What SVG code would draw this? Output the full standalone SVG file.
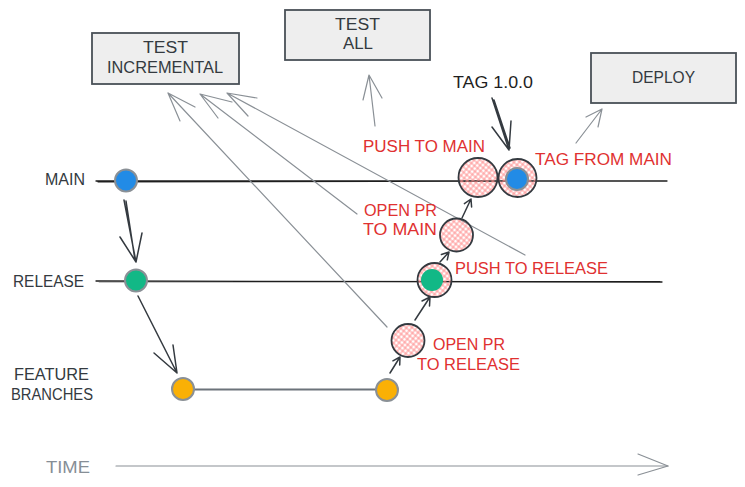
<svg xmlns="http://www.w3.org/2000/svg" width="745" height="487" viewBox="0 0 745 487">
<defs>
<pattern id="hatch" patternUnits="userSpaceOnUse" width="4" height="4" patternTransform="rotate(40)">
<path d="M0,2 H4 M2,0 V4" stroke="#ff8787" stroke-width="0.9"/>
</pattern>
<style>
.lbl{font-family:"Liberation Sans","DejaVu Sans",sans-serif;font-size:16px;}
.dark{fill:#343a40;}
.red{fill:#e03131;}
.blk{fill:#1e1e1e;}
.gryt{fill:#868e96;}
.box{fill:#eeeeee;stroke:#495057;stroke-width:1.8;}
.track{stroke:#1e1e1e;stroke-width:1.3;fill:none;stroke-linecap:round;}
.gline{stroke:#8a9096;stroke-width:1.2;fill:none;stroke-linecap:round;stroke-linejoin:round;}
.darr{stroke:#343a40;stroke-width:1.5;fill:none;stroke-linecap:round;stroke-linejoin:round;}
.hc{fill:url(#hatch);stroke:#343a40;stroke-width:1.8;}
.dot{stroke:#8a9096;stroke-width:2;}
</style>
</defs>
<rect width="745" height="487" fill="#ffffff"/>

<g id="tracks">
<path class="track" d="M96,181 L667,181 M98,181.8 L665,180.8"/>
<path class="track" d="M96,281 L662,282 M99,281.6 L660,281.6"/>
<path d="M183,389.5 L387,389.5" stroke="#6c737a" stroke-width="2" fill="none"/>
<path class="gline" d="M116,466 L668,466" stroke-width="2"/>
</g>

<g id="connectors">
<path class="gline" d="M387,327 L168,93 M195,107 L168,93 L180,121"/>
<path class="gline" d="M357,214 L200,94 M232,102 L200,94 L218,118"/>
<path class="gline" d="M525,255 L227,93 M257,98 L227,93 L248,116"/>
<path class="gline" d="M375,126 L369,75 M363,100 L369,75 L382,98"/>
<path class="gline" d="M576,143 L602,109 M586,117 L602,109 L598,127"/>
<path class="gline" d="M638,454 L668,466 L638,475"/>
<path class="darr" d="M492,98 L509,150 M494,100 L510,148 M492,127 L509,150 L511,121"/>
<path class="darr" d="M124,200 L136,262 M126,201 L135,260 M120,237 L136,262 L142,233"/>
<path class="darr" d="M138,296 L177,373 M154,353 L177,373 L173,345"/>
<path class="darr" d="M390,373 L400,357 M392.9,360.8 L400,357 L399.7,365"/>
<path class="darr" d="M415,320 L430,297 M422,301 L430,297 L429.5,306"/>
<path class="darr" d="M440,262 L449,252 M441.4,254.5 L449,252 L447.3,259.8"/>
<path class="darr" d="M462,218 L471,199 M464.4,203.6 L471,199 L471.6,207"/>
</g>

<g id="test-incremental">
<rect class="box" x="92" y="33" width="147" height="51"/>
<text class="lbl dark" x="143" y="53" textLength="45" lengthAdjust="spacingAndGlyphs">TEST</text>
<text class="lbl dark" x="107" y="73" textLength="116" lengthAdjust="spacingAndGlyphs">INCREMENTAL</text>
</g>
<g id="test-all">
<rect class="box" x="285" y="10" width="145" height="50"/>
<text class="lbl dark" x="335" y="30" textLength="45" lengthAdjust="spacingAndGlyphs">TEST</text>
<text class="lbl dark" x="343" y="49" textLength="30" lengthAdjust="spacingAndGlyphs">ALL</text>
</g>
<g id="deploy">
<rect class="box" x="591" y="53" width="145" height="50"/>
<text class="lbl dark" x="632" y="83" textLength="63" lengthAdjust="spacingAndGlyphs">DEPLOY</text>
</g>

<g id="labels-side">
<text class="lbl dark" x="45" y="185" textLength="40" lengthAdjust="spacingAndGlyphs">MAIN</text>
<text class="lbl dark" x="13" y="287" textLength="71" lengthAdjust="spacingAndGlyphs">RELEASE</text>
<text class="lbl dark" x="14" y="380" textLength="75" lengthAdjust="spacingAndGlyphs">FEATURE</text>
<text class="lbl dark" x="11" y="400" textLength="82" lengthAdjust="spacingAndGlyphs">BRANCHES</text>
<text class="lbl gryt" x="46" y="473" textLength="44" lengthAdjust="spacingAndGlyphs">TIME</text>
</g>

<g id="main-start"><circle class="dot" cx="126" cy="180.5" r="11" fill="#228be6"/></g>
<g id="release-start"><circle class="dot" cx="136" cy="280.5" r="11" fill="#12b886"/></g>
<g id="feature-start"><circle class="dot" cx="183" cy="389" r="11" fill="#fab005"/></g>
<g id="feature-end"><circle class="dot" cx="387" cy="390" r="11" fill="#fab005"/></g>

<g id="open-pr-release">
<circle class="hc" cx="408" cy="340.5" r="16.5"/>
<text class="lbl red" x="433" y="350" textLength="72" lengthAdjust="spacingAndGlyphs">OPEN PR</text>
<text class="lbl red" x="417" y="370" textLength="103" lengthAdjust="spacingAndGlyphs">TO RELEASE</text>
</g>
<g id="push-release">
<circle class="hc" cx="434.5" cy="280" r="17"/>
<circle cx="432" cy="280" r="11" fill="#12b886"/>
<text class="lbl red" x="455" y="274" textLength="153" lengthAdjust="spacingAndGlyphs">PUSH TO RELEASE</text>
</g>
<g id="open-pr-main">
<circle class="hc" cx="456.5" cy="235" r="16.5"/>
<text class="lbl red" x="364" y="216" textLength="73" lengthAdjust="spacingAndGlyphs">OPEN PR</text>
<text class="lbl red" x="363" y="235" textLength="74" lengthAdjust="spacingAndGlyphs">TO MAIN</text>
</g>
<g id="push-main">
<circle class="hc" cx="478" cy="177.5" r="19.5"/>
<text class="lbl red" x="363" y="152" textLength="122" lengthAdjust="spacingAndGlyphs">PUSH TO MAIN</text>
</g>
<g id="tag-main">
<circle class="hc" cx="517.5" cy="178" r="19"/>
<circle class="dot" cx="517" cy="179" r="11" fill="#228be6" stroke-width="1.5"/>
<text class="lbl red" x="535" y="165" textLength="137" lengthAdjust="spacingAndGlyphs">TAG FROM MAIN</text>
</g>
<g id="tag-label">
<text class="lbl blk" x="453" y="88" textLength="80" lengthAdjust="spacingAndGlyphs">TAG 1.0.0</text>
</g>
</svg>
